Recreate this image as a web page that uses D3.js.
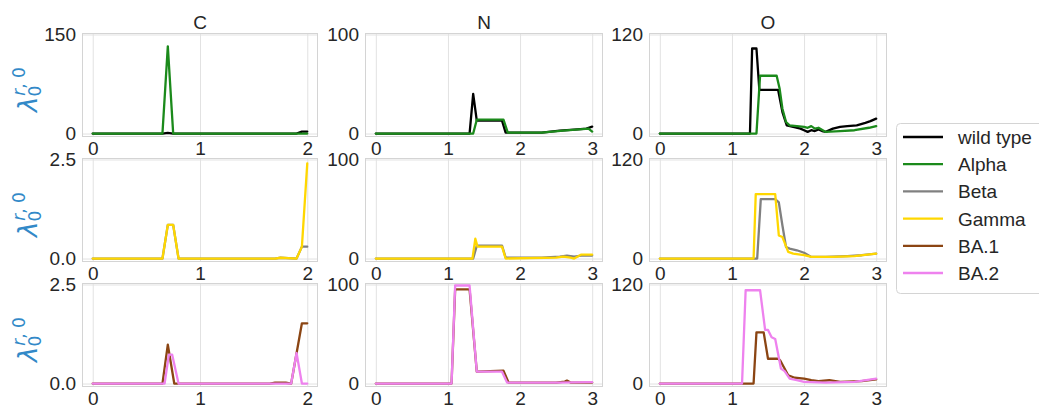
<!DOCTYPE html>
<html>
<head>
<meta charset="utf-8">
<script src="https://cdn.jsdelivr.net/npm/d3@7"></script>
<style>
  body { margin: 0; background: #fff; }
  svg { display: block; font-family: "Liberation Sans", Arial, sans-serif; }
</style>
</head>
<body>
<svg id="chart" width="1039" height="409"></svg>
<script>
// panel columns and legend entries
const elements = ["C", "N", "O"];
const variants = ["wild type", "Alpha", "Beta", "Gamma", "BA.1", "BA.2"];
const variantColors = ["#000000", "#1b8a1b", "#808080", "#ffd700", "#8b4513", "#ee82ee"];

const xTicksC = [0, 1, 2];
const xTicksNO = [0, 1, 2, 3];
// top y tick of each panel, row by row
const yTops = [[150, 100, 120], [2.5, 100, 120], [2.5, 100, 120]];

// series: [x, value]
const wildC = [[0,0],[0.65,0],[0.7,1],[0.75,0],[1.9,0],[1.95,3],[2,3]];
const wildN = [[0,0],[1.3,0],[1.35,40],[1.4,13],[1.75,13],[1.8,1],[2.3,1],[2.55,3],[2.75,4],[2.92,5],[3,7]];
const wildO = [[0,0],[1.25,0],[1.28,103],[1.34,103],[1.38,53],[1.64,53],[1.7,26],[1.76,10],[1.85,8],[1.95,6],[2,4],[2.05,2],[2.1,4],[2.15,3],[2.2,5],[2.25,3],[2.3,2],[2.4,6],[2.5,8],[2.6,9],[2.73,10],[2.85,13],[2.92,15],[3,18]];

const alphaC = [[0,0],[0.65,0],[0.7,132],[0.75,0],[2,0]];
const alphaN = [[0,0],[1.35,0],[1.4,14],[1.77,14],[1.83,1],[2.3,1],[2.6,3],[2.95,5],[3,2]];
const alphaO = [[0,0],[1.34,0],[1.39,70],[1.62,70],[1.66,55],[1.7,30],[1.75,14],[1.8,10],[1.9,9],[2,8],[2.05,7],[2.1,9],[2.15,6],[2.2,7],[2.3,2],[2.5,3],[2.7,4],[2.9,7],[3,9]];

const betaC = [[0,0],[0.65,0],[0.7,0.85],[0.75,0.85],[0.8,0],[1.7,0],[1.75,0.02],[1.9,0],[1.95,0.3],[2,0.3]];
const betaN = [[0,0],[1.35,0],[1.4,13],[1.75,13],[1.8,1],[2.3,1],[2.55,2],[2.65,3],[2.75,2],[2.85,3],[3,3]];
const betaO = [[0,0],[1.35,0],[1.4,72],[1.6,72],[1.65,68],[1.7,40],[1.75,14],[1.8,12],[1.9,10],[2,7],[2.1,2],[2.3,2],[2.6,3],[2.8,4],[3,6]];

const gammaC = [[0,0],[0.65,0],[0.7,0.85],[0.75,0.85],[0.8,0],[1.7,0],[1.75,0.02],[1.9,0],[1.95,0.3],[2,2.4]];
const gammaN = [[0,0],[1.34,0],[1.38,20],[1.41,12],[1.75,12],[1.8,0],[2.5,1],[2.6,2],[2.7,1],[2.75,0],[2.85,4],[3,4]];
const gammaO = [[0,0],[1.3,0],[1.33,78],[1.6,78],[1.65,28],[1.7,26],[1.78,8],[1.85,6],[2,4],[2.1,2],[2.4,2],[2.7,3],[3,6]];

const ba1C = [[0,0],[0.65,0],[0.7,0.98],[0.76,0],[1.65,0],[1.7,0.02],[1.8,0.02],[1.85,0],[1.95,1.52],[2,1.52]];
const ba1N = [[0,0],[1.05,0],[1.1,95],[1.3,95],[1.4,12],[1.77,13],[1.84,1],[2.5,1],[2.62,2],[2.65,3],[2.7,1],[3,1]];
const ba1O = [[0,0],[1.3,0],[1.34,62],[1.44,62],[1.5,30],[1.64,30],[1.67,28],[1.78,10],[1.87,7],[2,6],[2.1,4],[2.2,3],[2.35,4],[2.5,2],[2.8,3],[3,5]];

const ba2C = [[0,0],[0.67,0],[0.71,0.73],[0.74,0.73],[0.8,0],[1.85,0],[1.9,0.77],[1.95,0],[2,0]];
const ba2N = [[0,0],[1.05,0],[1.1,99],[1.3,99],[1.4,12],[1.75,12],[1.82,1],[2.5,1],[3,1.4]];
const ba2O = [[0,0],[1.14,0],[1.19,113],[1.39,113],[1.46,65],[1.5,65],[1.55,56],[1.6,54],[1.68,18],[1.73,15],[1.8,6],[1.9,4],[2,2],[2.3,1],[2.7,2],[3,6]];

const seriesByVariant = [
  [wildC, wildN, wildO],
  [alphaC, alphaN, alphaO],
  [betaC, betaN, betaO],
  [gammaC, gammaN, gammaO],
  [ba1C, ba1N, ba1O],
  [ba2C, ba2N, ba2O]
];

// layout
const colBox = [[82, 318], [365, 603], [649, 887]];
const rowBox = [[33, 137], [158, 262], [283, 387]];
const gridColor = "#e2e2e2";
const frameColor = "#d4d4d4";
const textColor = "#262626";

const svg = d3.select("#chart");

rowBox.forEach(([y0, y1], r) => {
  colBox.forEach(([x0, x1], c) => {
    const top = yTops[r][c];
    const x = d3.scaleLinear()
      .domain(c === 0 ? [-0.1, 2.1] : [-0.15, 3.15])
      .range([x0, x1]);
    const y = d3.scaleLinear()
      .domain([-0.035 * top, 1.015 * top])
      .range([y1, y0]);

    const g = svg.append("g");
    g.append("rect")
      .attr("x", x0).attr("y", y0)
      .attr("width", x1 - x0).attr("height", y1 - y0)
      .attr("fill", "#fff");

    const fmt = top < 10 ? d3.format(".1f") : d3.format("d");

    const xAxis = g.append("g")
      .attr("transform", `translate(0,${y1})`)
      .call(d3.axisBottom(x)
        .tickValues(c === 0 ? xTicksC : xTicksNO)
        .tickSizeInner(-(y1 - y0))
        .tickSizeOuter(0)
        .tickPadding(5)
        .tickFormat(d3.format("d")));

    const yAxis = g.append("g")
      .attr("transform", `translate(${x0},0)`)
      .call(d3.axisLeft(y)
        .tickValues([0, top])
        .tickSizeInner(-(x1 - x0))
        .tickSizeOuter(0)
        .tickPadding(6)
        .tickFormat(fmt));

    [xAxis, yAxis].forEach(a => {
      a.select(".domain").remove();
      a.selectAll("line").attr("stroke", gridColor).attr("stroke-width", 1);
      a.selectAll("text")
        .attr("fill", textColor)
        .style("font-size", "19px")
        .style("font-family", "'Liberation Sans', Arial, sans-serif");
    });

    g.append("rect")
      .attr("x", x0 + 0.5).attr("y", y0 + 0.5)
      .attr("width", x1 - x0 - 1).attr("height", y1 - y0 - 1)
      .attr("fill", "none")
      .attr("stroke", frameColor);

    const line = d3.line().x(d => x(d[0])).y(d => y(d[1]));
    [2 * r, 2 * r + 1].forEach(v => {
      g.append("path")
        .attr("d", line(seriesByVariant[v][c]))
        .attr("fill", "none")
        .attr("stroke", variantColors[v])
        .attr("stroke-width", 2.3)
        .attr("stroke-linejoin", "round")
        .attr("stroke-linecap", "round");
    });

    if (r === 0) {
      svg.append("text")
        .attr("x", (x0 + x1) / 2).attr("y", 29)
        .attr("text-anchor", "middle")
        .attr("fill", textColor)
        .style("font-size", "19px")
        .text(elements[c]);
    }
  });

  // y label: lambda_0^{r,0}
  const cy = (y0 + y1) / 2;
  const lab = svg.append("text")
    .attr("transform", `translate(37,${cy + 27}) rotate(-90)`)
    .attr("fill", "#3289c8")
    .style("font-family", "'DejaVu Sans', sans-serif");
  lab.append("tspan").style("font-size", "26px").style("font-style", "italic").text("λ");
  lab.append("tspan").style("font-size", "17px").attr("dy", 4).text("0");
  lab.append("tspan").style("font-size", "17px").style("font-style", "italic")
    .attr("dx", -10).attr("dy", -16).text("r");
  lab.append("tspan").style("font-size", "17px").text(", 0");
});

// legend
const leg = svg.append("g");
leg.append("rect")
  .attr("x", 896.5).attr("y", 123.5)
  .attr("width", 200).attr("height", 170)
  .attr("rx", 4)
  .attr("fill", "#fff")
  .attr("stroke", frameColor);
variants.forEach((name, i) => {
  const yy = 137 + i * 27.2;
  leg.append("line")
    .attr("x1", 903).attr("x2", 943)
    .attr("y1", yy).attr("y2", yy)
    .attr("stroke", variantColors[i])
    .attr("stroke-width", 2.3);
  leg.append("text")
    .attr("x", 958).attr("y", yy + 7)
    .attr("fill", textColor)
    .style("font-size", "19px")
    .text(name);
});
</script>
</body>
</html>
